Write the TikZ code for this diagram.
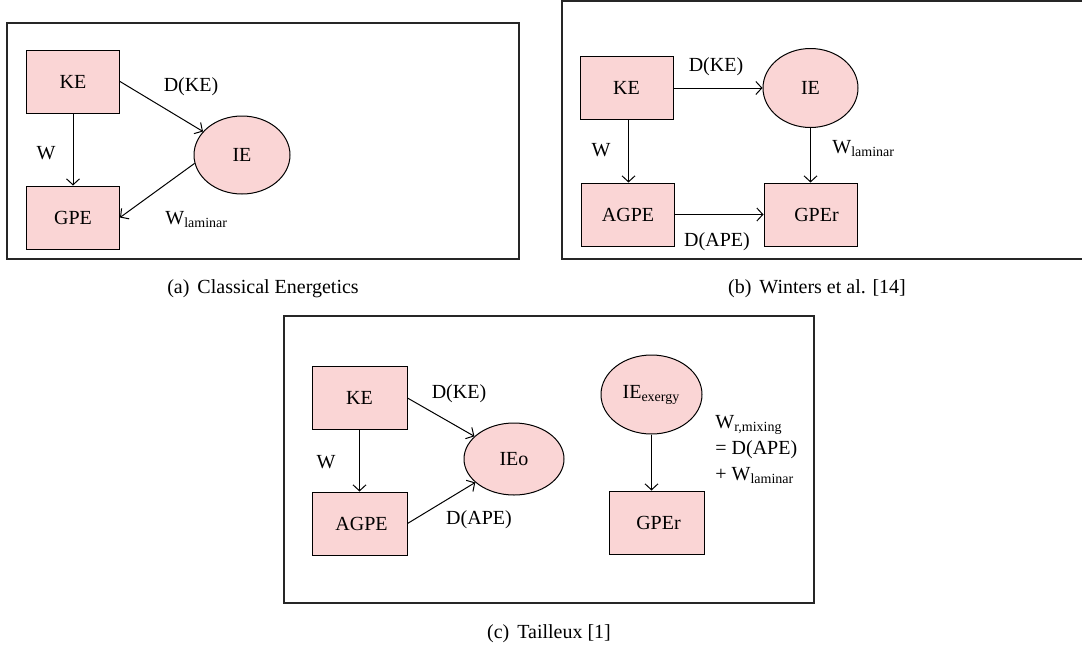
\documentclass[tikz,border=0pt]{standalone}
\usepackage{fontspec}
\setmainfont{Liberation Serif}
\usetikzlibrary{shapes.geometric,arrows.meta}
\definecolor{boxpink}{RGB}{250,213,213}

\tikzset{
  ebox/.style={rectangle, draw, fill=boxpink, line width=0.5pt, inner sep=0pt,
               minimum width=46.5pt, minimum height=31.5pt},
  eoval/.style={ellipse, draw, fill=boxpink, line width=0.5pt, inner sep=0pt,
                minimum width=48pt, minimum height=39pt},
  flow/.style={line width=0.5pt, -{Straight Barb[length=3pt,width=6.5pt]}},
  frame/.style={line width=0.75pt, draw=black!85},
}

\begin{document}
\begin{tikzpicture}[x=0.5pt, y=-0.5pt]
\useasboundingbox (0,0) rectangle (1082,649);

% (a) classical energetics
\begin{scope}
  \draw[frame] (7,23) rectangle (519,259);
  \node[ebox]  (KE)  at ( 73, 81.5) {KE};
  \node[ebox]  (GPE) at ( 73,217.5) {GPE};
  \node[eoval] (IE)  at (242,155)   {IE};

  \draw[flow] (KE.south) -- (GPE.north);
  \draw[flow] (KE.east)  -- (IE);
  \draw[flow] (IE.190)   -- (GPE.east);

  \node[anchor=base]      (lW)   at ( 46,159) {W};
  \node[anchor=base]      (lDKE) at (191, 91) {D(KE)};
  \node[anchor=base west, inner sep=0pt] (lWl) at (165,224) {W\textsubscript{laminar}};
  \node[anchor=base]      (capA) at (263,293) {(a)\hspace{4pt}Classical Energetics};
\end{scope}

% (b) Winters et al.
\begin{scope}
  \draw[frame] (1083,1) -- (562,1) -- (562,259) -- (1083,259);
  \node[ebox]  (KE)   at (626.5, 88)   {KE};
  \node[ebox]  (AGPE) at (628,  214.5) {AGPE};
  \node[ebox]  (GPEr) at (810.5,214.5) {\hspace{6pt}GPEr};
  \node[eoval, minimum width=47.5pt, minimum height=39.5pt] (IE) at (810.5,88) {IE};

  \draw[flow] (KE.east)   -- (KE.east -| IE.west);
  \draw[flow] ([xshift=1pt]KE.south) -- ([xshift=1pt]KE.south |- AGPE.north);
  \draw[flow] (IE.south)  -- (IE.south |- GPEr.north);
  \draw[flow] (AGPE.east) -- (GPEr.west);

  \node[anchor=base]      (lDKE) at (716, 71)  {D(KE)};
  \node[anchor=base]      (lW)   at (601,156)  {W};
  \node[anchor=base west, inner sep=0pt] (lWl) at (832,153) {W\textsubscript{laminar}};
  \node[anchor=base]      (lDAPE) at (717,246) {D(APE)};
  \node[anchor=base]      (capB) at (817,293)  {(b)\hspace{4pt}Winters et al. [14]};
\end{scope}

% (c) Tailleux
\begin{scope}
  \draw[frame] (284,316) rectangle (814,603);
  \node[ebox, minimum width=47.5pt] (KE)   at (359.5,398)   {KE};
  \node[ebox, minimum width=47.5pt] (AGPE) at (359.5,523.5) {\hspace{2pt}AGPE};
  \node[ebox, minimum width=47.5pt] (GPEr) at (656.5,522.5) {\hspace{2pt}GPEr};
  \node[eoval, minimum width=50pt, minimum height=36pt]   (IEo) at (514,459)   {IEo};
  \node[eoval, minimum width=50.5pt, minimum height=39.5pt] (IEx) at (651.5,394.5) {IE\textsubscript{exergy}};

  \draw[flow] (KE.south)   -- (AGPE.north);
  \draw[flow] (KE.east)    -- (IEo);
  \draw[flow] (AGPE.east)  -- (IEo);
  \draw[flow] (IEx.south)  -- (IEx.south |- GPEr.north);

  \node[anchor=base]       (lW)    at (326,468) {W};
  \node[anchor=base]       (lDKE)  at (459,398) {D(KE)};
  \node[anchor=base]       (lDAPE) at (479,524) {D(APE)};
  \node[anchor=west, align=left, inner sep=0pt] (lWmix) at (715,450)
    {W\textsubscript{r,mixing}\\[1pt]= D(APE)\\[1pt]+ W\textsubscript{laminar}};
  \node[anchor=base]       (capC)  at (549,638) {(c)\hspace{4pt}Tailleux [1]};
\end{scope}

\end{tikzpicture}
\end{document}
